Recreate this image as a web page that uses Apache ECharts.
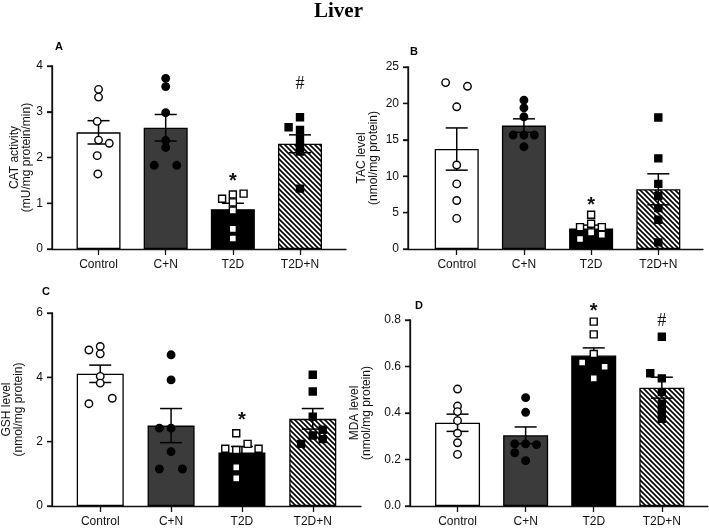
<!DOCTYPE html>
<html>
<head>
<meta charset="utf-8">
<script src="https://cdn.jsdelivr.net/npm/echarts@6/dist/echarts.min.js"></script>
<style>
  html, body { margin: 0; padding: 0; background: #fff; }
  #main { width: 709px; height: 532px; }
</style>
</head>
<body>
<div id="main"></div>
<script>
// groups
var categories = ['Control', 'C+N', 'T2D', 'T2D+N'];

// A - CAT activity
var catMean = [2.55, 2.65, 0.87, 2.30];
var catSem = [0.255, 0.29, 0.13, 0.195];
var catPoints = [
  [0, 3.49], [0, 3.32], [-0.02, 2.79], [0, 2.38], [0.16, 2.31], [-0.02, 2.04], [-0.01, 1.64],
  [1, 3.73], [1, 3.55], [1, 2.98], [1, 2.37], [1, 2.22], [0.83, 1.83], [1.165, 1.83],
  [1.84, 1.10], [2, 1.19], [2.16, 1.21], [2, 1.02], [2, 0.84], [2, 0.44], [2, 0.23],
  [3, 2.88], [2.83, 2.66], [3, 2.60], [3, 2.41], [3, 2.23], [3, 2.13], [3, 1.32]
];
var catMarks = [[2, 1.48, '*'], [3, 3.59, '#']];

// B - TAC level
var tacMean = [13.73, 16.95, 2.83, 8.2];
var tacSem = [2.9, 0.93, 0.45, 2.13];
var tacPoints = [
  [-0.165, 22.86], [0.16, 22.35], [0, 19.53], [0, 11.54], [0, 8.94], [0, 6.66], [0, 4.20],
  [1, 20.44], [1, 19.39], [1, 18.16], [0.84, 15.65], [1, 15.65], [1.155, 15.65], [1, 14.05],
  [2, 4.70], [1.835, 3.01], [2, 3.47], [2.16, 3.01], [1.835, 1.37], [2, 2.28], [2.16, 1.96],
  [3, 18.07], [3, 12.45], [3, 8.94], [3, 7.30], [3, 5.61], [3, 4.01], [3, 0.91]
];
var tacMarks = [[2, 6.0, '*']];

// C - GSH level
var gshMean = [4.11, 2.50, 1.66, 2.71];
var gshSem = [0.27, 0.53, 0.19, 0.32];
var gshPoints = [
  [-0.16, 4.85], [0, 4.96], [0, 4.73], [0, 4.03], [0, 3.82], [-0.16, 3.18], [0.17, 3.35],
  [1, 4.70], [1, 3.92], [0.835, 2.42], [1, 2.42], [1, 1.69], [0.835, 1.15], [1.16, 1.15],
  [1.92, 2.26], [1.765, 1.78], [1.92, 1.74], [2.08, 1.93], [2.235, 1.78], [1.92, 1.20], [1.92, 0.86],
  [3, 4.08], [3, 3.56], [3, 2.78], [3.14, 2.37], [2.835, 1.93], [3, 2.19], [3.14, 2.08]
];
var gshMarks = [[2, 2.66, '*']];

// D - MDA level
var mdaMean = [0.358, 0.304, 0.647, 0.509];
var mdaSem = [0.037, 0.036, 0.033, 0.045];
var mdaPoints = [
  [0, 0.503], [0, 0.430], [0, 0.406], [0, 0.367], [0, 0.313], [0, 0.272], [0, 0.222],
  [1, 0.466], [1, 0.403], [0.84, 0.267], [1, 0.267], [1.16, 0.264], [0.84, 0.229], [1, 0.195],
  [2, 0.793], [2, 0.738], [1.83, 0.617], [2, 0.654], [2.16, 0.599], [2, 0.549],
  [3, 0.728], [2.83, 0.571], [3, 0.549], [3, 0.49], [3, 0.44], [3, 0.41], [3, 0.375]
];
var mdaMarks = [[2, 0.835, '*'], [3, 0.793, '#']];

// diagonal hatch for T2D+N
function makeHatch() {
  var s = 5;
  var c = document.createElement('canvas');
  c.width = s; c.height = s;
  var ctx = c.getContext('2d');
  ctx.fillStyle = '#fff';
  ctx.fillRect(0, 0, s, s);
  ctx.strokeStyle = '#000';
  ctx.lineWidth = 1.6;
  ctx.beginPath();
  ctx.moveTo(-1, -1); ctx.lineTo(s + 1, s + 1);
  ctx.moveTo(s - 1, -1); ctx.lineTo(s + 1, 1);
  ctx.moveTo(-1, s - 1); ctx.lineTo(1, s + 1);
  ctx.stroke();
  return c;
}
var barFills = ['#fff', '#3b3b3b', '#000', { image: makeHatch(), repeat: 'repeat' }];
var symbols = ['circle', 'circle', 'rect', 'rect'];
var symFills = ['#fff', '#000', '#fff', '#000'];

// pad = space (in group widths) between the y axis and the first group
var panels = [
  { mean: catMean, sem: catSem, pts: catPoints, marks: catMarks, barW: 44,
    grid: { left: 52, top: 66, width: 294, height: 183 }, pad: 0.693, span: 4.378,
    y: { max: 4, interval: 1, name: 'CAT activity\n(mU/mg protein/min)', gap: 19 } },
  { mean: tacMean, sem: tacSem, pts: tacPoints, marks: tacMarks, barW: 44,
    grid: { left: 408, top: 67, width: 295, height: 182 }, pad: 0.725, span: 4.39,
    y: { max: 25, interval: 5, name: 'TAC level\n(nmol/mg protein)', gap: 28 } },
  { mean: gshMean, sem: gshSem, pts: gshPoints, marks: gshMarks, barW: 47,
    grid: { left: 52, top: 313, width: 309, height: 193 }, pad: 0.681, span: 4.362,
    y: { max: 6, interval: 2, name: 'GSH level\n(nmol/mg protein)', gap: 27 } },
  { mean: mdaMean, sem: mdaSem, pts: mdaPoints, marks: mdaMarks, barW: 45,
    grid: { left: 410, top: 320, width: 298, height: 186 }, pad: 0.698, span: 4.376,
    y: { max: 0.8, interval: 0.2, name: 'MDA level\n(nmol/mg protein)', gap: 37, dec: 1 } }
];

var txt = { fontFamily: 'Liberation Sans, Arial, sans-serif', color: '#111' };
var ink = { stroke: '#111', lineWidth: 1.3 };

var grids = [], xAxes = [], yAxes = [], series = [];
panels.forEach(function (p, k) {
  var sh = p.pad;
  var centers = categories.map(function (c, i) { return i + sh; });
  var yTicks = [];
  for (var t = 0; t <= p.y.max + 1e-9; t += p.y.interval) yTicks.push(t);

  grids.push(p.grid);
  xAxes.push({
    type: 'value', gridIndex: k, min: 0, max: p.span,
    splitLine: { show: false },
    axisLine: { show: true, onZero: false, lineStyle: { color: '#111', width: 1.3 } },
    axisTick: { show: true, customValues: centers, length: 6, lineStyle: { color: '#111', width: 1.3 } },
    axisLabel: Object.assign({ customValues: centers, fontSize: 12, margin: 10,
      formatter: function (v) { return categories[Math.round(v - sh)]; } }, txt)
  });
  yAxes.push({
    type: 'value', gridIndex: k, min: 0, max: p.y.max, interval: p.y.interval,
    position: 'left',
    splitLine: { show: false },
    axisLine: { show: true, onZero: false, lineStyle: { color: '#111', width: 1.3 } },
    axisTick: { show: true, length: 5, lineStyle: { color: '#111', width: 1.3 } },
    axisLabel: Object.assign({ fontSize: 12, margin: 9,
      formatter: function (v) { return p.y.dec ? v.toFixed(p.y.dec) : String(v); } }, txt),
    name: p.y.name, nameLocation: 'middle', nameRotate: 90, nameGap: p.y.gap,
    nameTextStyle: Object.assign({ fontSize: 12, lineHeight: 12 }, txt)
  });

  // vertical axis line with its ticks, placed through the panel's scales
  series.push({
    type: 'custom', xAxisIndex: k, yAxisIndex: k, z: 6, clip: false, silent: true,
    data: [[0, 0, p.y.max]],
    renderItem: function (params, api) {
      var lo = api.coord([api.value(0), api.value(1)]);
      var hi = api.coord([api.value(0), api.value(2)]);
      var kids = [{ type: 'line', shape: { x1: lo[0], y1: lo[1] + 0.6, x2: hi[0], y2: hi[1] - 0.6 }, style: ink }];
      yTicks.forEach(function (v) {
        var c = api.coord([0, v]);
        kids.push({ type: 'line', shape: { x1: c[0] - 5, y1: c[1], x2: c[0], y2: c[1] }, style: ink });
      });
      return { type: 'group', children: kids };
    }
  });

  series.push({
    type: 'bar', xAxisIndex: k, yAxisIndex: k, barWidth: p.barW, z: 2,
    data: p.mean.map(function (m, i) {
      return { value: [i + sh, m], itemStyle: { color: barFills[i], borderColor: '#000', borderWidth: 1.3 } };
    })
  });

  series.push({
    type: 'custom', xAxisIndex: k, yAxisIndex: k, z: 3,
    data: p.mean.map(function (m, i) { return [i + sh, m - p.sem[i], m + p.sem[i]]; }),
    renderItem: function (params, api) {
      var a = api.coord([api.value(0), api.value(1)]);
      var b = api.coord([api.value(0), api.value(2)]);
      var w = 11;
      var st = { stroke: '#000', lineWidth: 1.5 };
      return {
        type: 'group', children: [
          { type: 'line', shape: { x1: a[0], y1: a[1], x2: b[0], y2: b[1] }, style: st },
          { type: 'line', shape: { x1: a[0] - w, y1: a[1], x2: a[0] + w, y2: a[1] }, style: st },
          { type: 'line', shape: { x1: b[0] - w, y1: b[1], x2: b[0] + w, y2: b[1] }, style: st }
        ]
      };
    }
  });

  series.push({
    type: 'scatter', xAxisIndex: k, yAxisIndex: k, z: 4,
    data: p.pts.map(function (d) {
      var g = Math.round(d[0]);
      return {
        value: [d[0] + sh, d[1]], symbol: symbols[g], symbolSize: g < 2 ? 7.5 : 7,
        itemStyle: { color: symFills[g], borderColor: '#000', borderWidth: 1.4, opacity: 1 }
      };
    })
  });

  series.push({
    type: 'custom', xAxisIndex: k, yAxisIndex: k, z: 5,
    data: p.marks.map(function (m) { return [m[0] + sh, m[1]]; }),
    renderItem: function (params, api) {
      var m = p.marks[params.dataIndex];
      var c = api.coord([api.value(0), api.value(1)]);
      var star = m[2] === '*';
      return {
        type: 'text', x: c[0], y: c[1],
        style: {
          text: m[2], fill: '#111', align: 'center', verticalAlign: 'middle',
          font: star ? 'bold 20px Liberation Sans' : '18px Liberation Serif'
        }
      };
    }
  });
});

var letter = { fontFamily: 'Liberation Sans', fontWeight: 'bold', fontSize: 11, color: '#000' };
var chart = echarts.init(document.getElementById('main'));
chart.setOption({
  backgroundColor: '#fff',
  animation: false,
  title: [
    { text: 'Liver', left: 314, top: 1, padding: 0,
      textStyle: { fontFamily: 'Liberation Serif', fontWeight: 'bold', fontSize: 21, color: '#000' } },
    { text: 'A', left: 55, top: 41, padding: 0, textStyle: letter },
    { text: 'B', left: 410, top: 46, padding: 0, textStyle: letter },
    { text: 'C', left: 42, top: 286, padding: 0, textStyle: letter },
    { text: 'D', left: 415, top: 300, padding: 0, textStyle: letter }
  ],
  grid: grids,
  xAxis: xAxes,
  yAxis: yAxes,
  series: series
});
</script>
</body>
</html>
